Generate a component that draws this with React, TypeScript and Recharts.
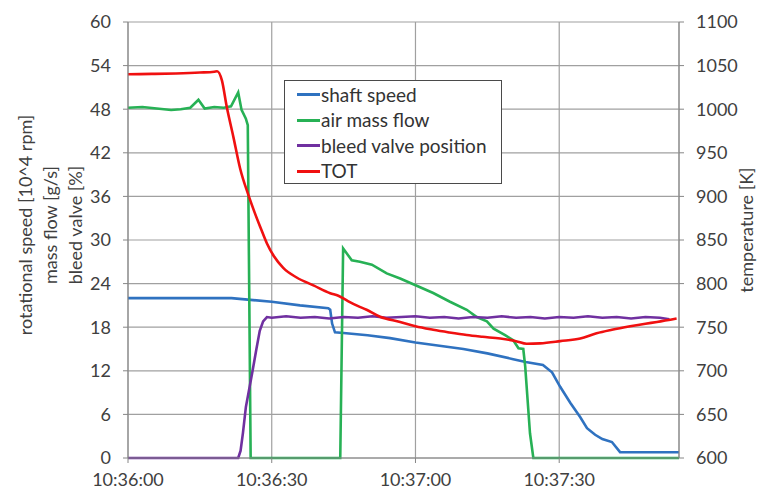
import { LineChart, Line, XAxis, YAxis, CartesianGrid, Legend } from 'recharts'

const FONT = 'Lato, "Open Sans", sans-serif'

const xTicks = [0, 30, 60, 90]
const xTickLabels = ['10:36:00', '10:36:30', '10:37:00', '10:37:30']
const leftTicks = [0, 6, 12, 18, 24, 30, 36, 42, 48, 54, 60]
const rightTicks = [600, 650, 700, 750, 800, 850, 900, 950, 1000, 1050, 1100]

// seconds after 10:36:00
const shaftTime = [0, 10, 21.6, 25, 30, 35.9, 41.8, 42.2, 42.6, 43.2, 45, 50, 54.7, 60, 70, 75, 80.4, 83, 86.6, 88.5, 90.2, 92.3, 94.4, 95.8, 97.5, 99, 101, 102.7, 115]
const shaftSpeed = [22, 22, 22, 21.8, 21.5, 21.0, 20.6, 20.4, 18.5, 17.3, 17.2, 16.9, 16.5, 15.9, 15.0, 14.4, 13.6, 13.2, 12.8, 11.8, 9.8, 7.6, 5.6, 4.1, 3.2, 2.6, 2.2, 0.8, 0.8]

const airTime = [0, 3, 6, 9, 11, 13, 14.7, 16, 18, 20, 21.5, 23, 23.7, 24.6, 25.0, 25.6, 44.3, 44.9, 46.7, 48.4, 50.9, 54, 56.8, 59.9, 63.7, 67.2, 70.7, 72.8, 74.9, 76.3, 78.7, 80.4, 81.5, 82.5, 82.9, 83.9, 84.6, 115]
const airFlow = [48.2, 48.3, 48.1, 47.9, 48.0, 48.2, 49.3, 48.1, 48.3, 48.2, 48.4, 50.3, 47.9, 46.7, 45.8, 0, 0, 28.85, 27.2, 27.0, 26.6, 25.4, 24.7, 23.8, 22.7, 21.5, 20.4, 19.4, 18.8, 17.8, 16.9, 16.2, 15.1, 15.0, 12.6, 3.4, 0, 0]

const bleedTime = [0, 23, 23.5, 24, 24.6, 25.3, 26, 26.8, 27.5, 28.2, 29, 30, 33, 36, 39, 42, 45, 48, 51, 54, 57, 60, 63, 66, 69, 72, 75, 78, 81, 84, 87, 90, 93, 96, 99, 102, 105, 108, 111, 113]
const bleedValve = [0, 0, 1, 3.5, 7, 9.5, 12, 15, 17.5, 18.8, 19.4, 19.3, 19.5, 19.3, 19.4, 19.2, 19.4, 19.3, 19.5, 19.3, 19.4, 19.5, 19.3, 19.4, 19.2, 19.4, 19.3, 19.5, 19.3, 19.4, 19.2, 19.4, 19.3, 19.5, 19.3, 19.4, 19.2, 19.4, 19.3, 19.1]

const totTime = [0, 5, 10, 15, 18, 18.6, 19.6, 20.6, 22, 23.4, 25.1, 26.4, 27.6, 29, 30.5, 32.4, 35.2, 38.7, 42.2, 43.9, 45.9, 47.7, 49.8, 52.6, 56.8, 60, 63.7, 67, 70.7, 74, 77.7, 81, 83.2, 86, 90.2, 94.4, 97.8, 101, 104.8, 108, 110.4, 114.5]
const totTemp = [1040, 1040.5, 1041, 1042, 1043, 1043.5, 1033, 1003, 968, 932, 902, 882, 865, 846, 831, 818, 807, 798, 789, 786, 780, 775, 770, 762, 756, 751, 747, 744, 741, 739, 737, 734, 731, 731.5, 734, 737, 743, 747, 751, 754, 756, 760]

const zip = (ts: number[], vs: number[]) => ts.map((t, i) => ({ t, v: vs[i] }))

const series = [
  { name: 'shaft speed', color: '#2f72c0', axis: 'left', curve: 'linear', data: zip(shaftTime, shaftSpeed) },
  { name: 'air mass flow', color: '#27b155', axis: 'left', curve: 'linear', data: zip(airTime, airFlow) },
  { name: 'bleed valve position', color: '#7030a0', axis: 'left', curve: 'linear', data: zip(bleedTime, bleedValve) },
  { name: 'TOT', color: '#f01010', axis: 'right', curve: 'monotone', data: zip(totTime, totTemp) },
]

const tickStyle = { fill: '#404040', fontSize: 18, fontFamily: FONT }

function LeftTitle() {
  const lines = ['rotational speed [10^4 rpm]', 'mass flow [g/s]', 'bleed valve [%]']
  const cy = 225
  return (
    <g>
      {lines.map((l, i) => {
        const x = 25 + i * 25
        return (
          <text key={l} x={x} y={cy} transform={`rotate(-90, ${x}, ${cy})`} textAnchor="middle" dominantBaseline="central"
            fill="#404040" fontSize={18} fontFamily={FONT}>{l}</text>
        )
      })}
    </g>
  )
}

function RightTitle() {
  const x = 746
  const cy = 230
  return (
    <text x={x} y={cy} transform={`rotate(-90, ${x}, ${cy})`} textAnchor="middle" dominantBaseline="central"
      fill="#404040" fontSize={18} fontFamily={FONT}>temperature [K]</text>
  )
}

function LegendBox() {
  return (
    <div style={{ width: 218, height: 104, border: '1.5px solid #4a4a4a', background: '#fff', boxSizing: 'border-box', paddingTop: 1 }}>
      {series.map(s => (
        <div key={s.name} style={{ display: 'flex', alignItems: 'center', height: 25.5, paddingLeft: 12 }}>
          <span style={{ width: 23, height: 3, background: s.color, display: 'inline-block' }} />
          <span style={{ fontFamily: FONT, fontSize: 19, color: '#333', marginLeft: 1, lineHeight: '22px' }}>{s.name}</span>
        </div>
      ))}
    </div>
  )
}

export default function App() {
  return (
    <div style={{ position: 'absolute', left: 0, top: 0, width: 758, height: 493, background: '#fff' }}>
      <LineChart width={758} height={493} margin={{ top: 22, right: 0, bottom: 0, left: 0 }}>
        <CartesianGrid yAxisId="left" stroke="#a0a0a0" strokeWidth={1.2} />
        <XAxis type="number" dataKey="t" domain={[0, 115]} ticks={xTicks} allowDataOverflow
          tickFormatter={(v: number) => xTickLabels[xTicks.indexOf(v)]}
          height={35} tickSize={5} tickMargin={10} stroke="#868686" tick={tickStyle} />
        <YAxis yAxisId="left" domain={[0, 60]} ticks={leftTicks} width={128} tickSize={5} tickMargin={12}
          stroke="#868686" tick={tickStyle} label={{ content: LeftTitle }} />
        <YAxis yAxisId="right" orientation="right" domain={[600, 1100]} ticks={rightTicks} width={79} tickSize={5} tickMargin={12}
          stroke="#868686" tick={tickStyle} label={{ content: RightTitle }} />
        <Legend layout="vertical" align="center" verticalAlign="middle" content={LegendBox}
          wrapperStyle={{ left: 284, top: 80, width: 218, height: 104 }} />
        {series.map(s => (
          <Line key={s.name} yAxisId={s.axis} data={s.data} dataKey="v" name={s.name} type={s.curve as 'linear'}
            stroke={s.color} strokeWidth={2.6} dot={false} isAnimationActive={false} />
        ))}
      </LineChart>
    </div>
  )
}
